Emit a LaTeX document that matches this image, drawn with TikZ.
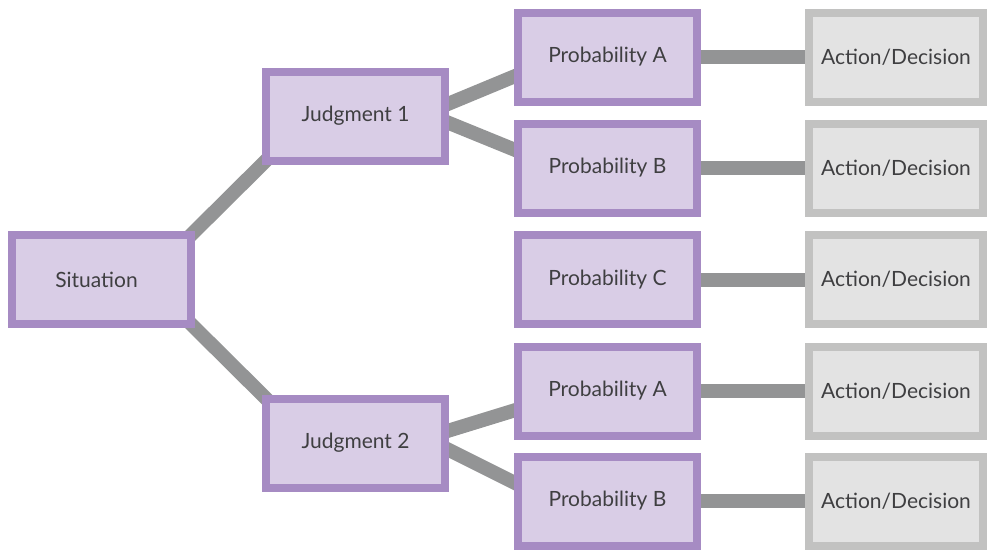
\documentclass[tikz,border=0pt]{standalone}
\usepackage{fontspec}
\setmainfont{Lato}
\usetikzlibrary{backgrounds}

\definecolor{lilacedge}{HTML}{A68BC3}
\definecolor{lilacfill}{HTML}{D9CDE6}
\definecolor{greyedge}{HTML}{C2C2C1}
\definecolor{greyfill}{HTML}{E3E3E3}
\definecolor{linkgrey}{HTML}{939495}
\definecolor{inkgrey}{HTML}{3F3F41}

\begin{document}
\begin{tikzpicture}[x=1pt,y=-1pt,
  boxbase/.style={line width=8pt, inner sep=0pt, minimum height=89pt,
    text=inkgrey, font=\fontsize{21}{25}\selectfont},
  stage/.style={boxbase, draw=lilacedge, fill=lilacfill, minimum width=179pt},
  outcome/.style={boxbase, draw=greyedge, fill=greyfill, minimum width=174pt},
  link/.style={draw=linkgrey, line width=14pt},
  sloped link/.style={link, shorten <=-10pt, shorten >=-10pt}]
\useasboundingbox (0,0) rectangle (987,549);

% situation and judgments
\node[stage] (sit) at (101.5,279.5) {Situation\hspace*{10pt}};
\node[stage] (j1) at (355.5,116) {Judgment 1};
\node[stage] (j2) at (355.5,443) {Judgment 2};

% probabilities
\node[stage] (p1) at (607.5,57) {Probability A};
\node[stage] (p2) at (607.5,168) {Probability B};
\node[stage] (p3) at (607.5,279.5) {Probability C};
\node[stage] (p4) at (607.5,391) {Probability A};
\node[stage] (p5) at (607.5,501) {Probability B};

% actions
\node[outcome] (a1) at (896,57) {Action/Decision};
\node[outcome] (a2) at (896,168) {Action/Decision};
\node[outcome] (a3) at (896,279.5) {Action/Decision};
\node[outcome] (a4) at (896,391) {Action/Decision};
\node[outcome] (a5) at (896,501) {Action/Decision};

\begin{scope}[on background layer]
  \draw[sloped link] (sit.north east) -- (j1.south west);
  \draw[sloped link] (sit.south east) -- (j2.north west);

  \draw[sloped link] ([yshift=12.5pt]j1.east) -- ([yshift=-19.5pt]p1.west);
  \draw[sloped link] ([yshift=-7pt]j1.east) -- ([yshift=18.5pt]p2.west);
  \draw[sloped link] ([yshift=12.5pt]j2.east) -- ([yshift=-19.5pt]p4.west);
  \draw[sloped link] ([yshift=-7pt]j2.east) -- ([yshift=18.5pt]p5.west);

  \draw[link] (p1.east) -- (a1.west);
  \draw[link] (p2.east) -- (a2.west);
  \draw[link] (p3.east) -- (a3.west);
  \draw[link] (p4.east) -- (a4.west);
  \draw[link] (p5.east) -- (a5.west);
\end{scope}
\end{tikzpicture}
\end{document}
